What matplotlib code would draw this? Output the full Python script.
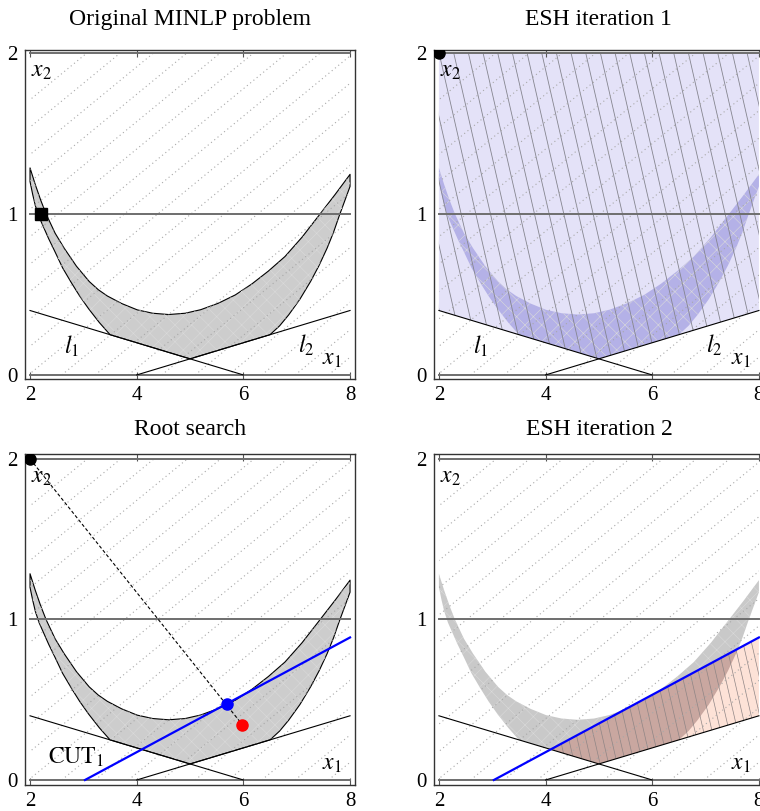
import numpy as np
import matplotlib
matplotlib.use("Agg")
import matplotlib.pyplot as plt
from matplotlib.patches import Polygon, Rectangle

plt.rcParams["font.family"] = ["Liberation Serif", "DejaVu Serif"]
plt.rcParams["mathtext.fontset"] = "stix"
plt.rcParams["hatch.linewidth"] = 0.4

titles = ["Original MINLP problem", "ESH iteration 1", "Root search", "ESH iteration 2"]
x_ticks = [2, 4, 6, 8]
y_ticks = [0, 1, 2]
int_levels = [0, 1, 2]

# upper edge of the nonlinear set
upper_x = [2.00, 2.10, 2.20, 2.30, 2.47, 2.64, 2.87, 3.11, 3.28, 3.45, 3.72, 4.01,
           4.30, 4.60, 4.91, 5.20, 5.53, 5.85, 6.16, 6.47, 6.78, 7.10, 7.44, 7.72, 8.00]
upper_y = [1.285, 1.18, 1.085, 1.00, 0.88, 0.787, 0.675, 0.58, 0.529, 0.49, 0.443, 0.404,
           0.383, 0.375, 0.383, 0.405, 0.445, 0.497, 0.565, 0.645, 0.735, 0.855, 1.00,
           1.12, 1.245]
# lower edges of the nonlinear set
left_x = [2.00, 2.05, 2.10, 2.17, 2.25, 2.35, 2.46, 2.61, 2.77, 2.93, 3.10, 3.30, 3.50]
left_y = [1.20, 1.12, 1.05, 0.98, 0.92, 0.845, 0.77, 0.665, 0.575, 0.49, 0.41, 0.325, 0.25]
right_x = [6.50, 6.68, 6.85, 7.06, 7.26, 7.42, 7.57, 7.69, 7.80, 7.90, 8.00]
right_y = [0.25, 0.305, 0.373, 0.47, 0.58, 0.68, 0.787, 0.885, 0.99, 1.08, 1.17]

# linear constraints
l1_x = [2.0, 6.0]
l1_y = [0.4, 0.0]
l2_x = [4.0, 8.0]
l2_y = [0.0, 0.4]

# points and the first cut
square_pt = [2.2, 1.0]
interior_pt = [2.0, 2.0]
nlp_pt = [5.98, 0.345]
root_pt = [5.69, 0.474]
cut_x = [3.03, 8.0]
cut_y = [0.0, 0.888]


def intersect(ax_, ay_, bx_, by_):
    m1 = (ay_[1] - ay_[0]) / (ax_[1] - ax_[0])
    m2 = (by_[1] - by_[0]) / (bx_[1] - bx_[0])
    x = (by_[0] - ay_[0] + m1 * ax_[0] - m2 * bx_[0]) / (m1 - m2)
    return x, ay_[0] + m1 * (x - ax_[0])


kink = intersect(l1_x, l1_y, l2_x, l2_y)
cut_l1 = intersect(cut_x, cut_y, l1_x, l1_y)

feas = (list(zip(upper_x, upper_y)) + list(zip(right_x, right_y))[::-1]
        + [kink] + list(zip(left_x, left_y))[::-1])
esh1 = [(l1_x[0], l1_y[0]), kink, (l2_x[1], l2_y[1]), (l2_x[1], 2.0), (l1_x[0], 2.0)]
esh2 = [cut_l1, kink, (l2_x[1], l2_y[1]), (cut_x[1], cut_y[1])]


def background(ax):
    clip = Rectangle((2, 0), 6, 2, transform=ax.transData)
    s = 0.272
    for c in np.arange(-4.28, 8.2, 0.625):
        ln, = ax.plot([c, c + 2 / s], [0, 2], color="#a8a8a8", lw=0.8,
                      ls=(0, (1, 2.8)), zorder=3)
        ln.set_clip_path(clip)
    for lv in int_levels:
        ax.plot([2, 8], [lv, lv], color="#6e6e6e", lw=1.4, zorder=3)


def steep_hatch(ax, patch, spacing, color, lw):
    for c in np.arange(1.8, 10.0, spacing):
        ln, = ax.plot([c, c - 2.2 / 1.45], [-0.1, 2.1], color=color, lw=lw, zorder=2.5)
        ln.set_clip_path(patch)


def feas_patch(ax, fc, ec, lw, z=2):
    p = Polygon(feas, closed=True, facecolor=fc, edgecolor=ec, lw=lw, zorder=z,
                joinstyle="round")
    ax.add_patch(p)
    tex = Polygon(feas, closed=True, facecolor="none", edgecolor="#dadada",
                  lw=0, hatch="xx", zorder=z + 0.1)
    ax.add_patch(tex)
    return p


def lines_l(ax):
    ax.plot(l1_x, l1_y, color="black", lw=0.8, zorder=4)
    ax.plot(l2_x, l2_y, color="black", lw=0.8, zorder=4)


fig = plt.figure(figsize=(7.6, 8.11), dpi=100)
pos = [[0.0325, 0.5327, 0.4351, 0.4057], [0.5705, 0.5327, 0.4351, 0.4057],
       [0.0325, 0.0321, 0.4351, 0.4081], [0.5705, 0.0321, 0.4351, 0.4081]]
axes = [fig.add_axes(p) for p in pos]

for i, ax in enumerate(axes):
    ax.set_xlim(1.9, 8.1)
    if i < 2:
        ax.set_ylim(-0.025, 2.017)
        ax.set_title(titles[i], fontsize=17, pad=18)
    else:
        ax.set_ylim(-0.031, 2.031)
        ax.set_title(titles[i], fontsize=17, pad=14)
    ax.set_xticks(x_ticks)
    ax.set_yticks(y_ticks)
    ax.tick_params(axis="x", direction="in", top=True, length=5, width=0.8,
                   color="#555555", labelsize=15, pad=5)
    ax.tick_params(axis="y", length=0, labelsize=15, pad=5)
    for sp in ax.spines.values():
        sp.set_color("#333333")
        sp.set_linewidth(1.0)
    background(ax)
    ax.text(2.02, 1.885, r"$x_2$", fontsize=17, va="center", ha="left", zorder=7)
    ax.text(7.47, 0.095, r"$x_1$", fontsize=17, va="center", ha="left", zorder=7)

# Original problem
ax = axes[0]
feas_patch(ax, "#cdcdcd", "black", 0.8)
lines_l(ax)
ax.plot(square_pt[0], square_pt[1], "s", color="black", ms=8.5, zorder=6)
ax.text(2.78, 0.175, r"$l_1$", fontsize=17, ha="center", va="center", zorder=7)
ax.text(7.17, 0.185, r"$l_2$", fontsize=17, ha="center", va="center", zorder=7)

# ESH iteration 1
ax = axes[1]
lav = Polygon(esh1, closed=True, facecolor="#e4e2f8", edgecolor="none", zorder=1)
ax.add_patch(lav)
feas_patch(ax, "#b4b1e7", "none", 0)
steep_hatch(ax, lav, 0.275, "#85858f", 0.6)
lines_l(ax)
ax.plot(interior_pt[0], interior_pt[1], "o", color="black", ms=8, zorder=6)
ax.text(2.78, 0.175, r"$l_1$", fontsize=17, ha="center", va="center", zorder=7)
ax.text(7.17, 0.185, r"$l_2$", fontsize=17, ha="center", va="center", zorder=7)

# Root search
ax = axes[2]
feas_patch(ax, "#cdcdcd", "black", 0.8)
lines_l(ax)
ax.plot([interior_pt[0], nlp_pt[0]], [interior_pt[1], nlp_pt[1]], color="black",
        lw=0.8, ls=(0, (3, 2)), zorder=5)
ax.plot(cut_x, cut_y, color="#0000ff", lw=1.6, zorder=5)
ax.plot(interior_pt[0], interior_pt[1], "o", color="black", ms=8, zorder=6)
ax.plot(root_pt[0], root_pt[1], "o", color="#0000ff", ms=8, zorder=6)
ax.plot(nlp_pt[0], nlp_pt[1], "o", color="#ff0000", ms=8, zorder=6)
ax.text(2.87, 0.14, r"$\mathrm{CUT}_1$", fontsize=17, ha="center", va="center", zorder=7)

# ESH iteration 2
ax = axes[3]
fp = feas_patch(ax, "#c9c9c9", "none", 0)
pink = Polygon(esh2, closed=True, facecolor="#fde2d7", edgecolor="none", zorder=2.2)
ax.add_patch(pink)
over = Polygon(esh2, closed=True, facecolor="#c9a7a0", edgecolor="none", zorder=2.3)
ax.add_patch(over)
over.set_clip_path(fp)
steep_hatch(ax, pink, 0.16, "#8f8585", 0.5)
lines_l(ax)
ax.plot(cut_x, cut_y, color="#0000ff", lw=1.6, zorder=5)

fig.savefig("out.png", dpi=100)
